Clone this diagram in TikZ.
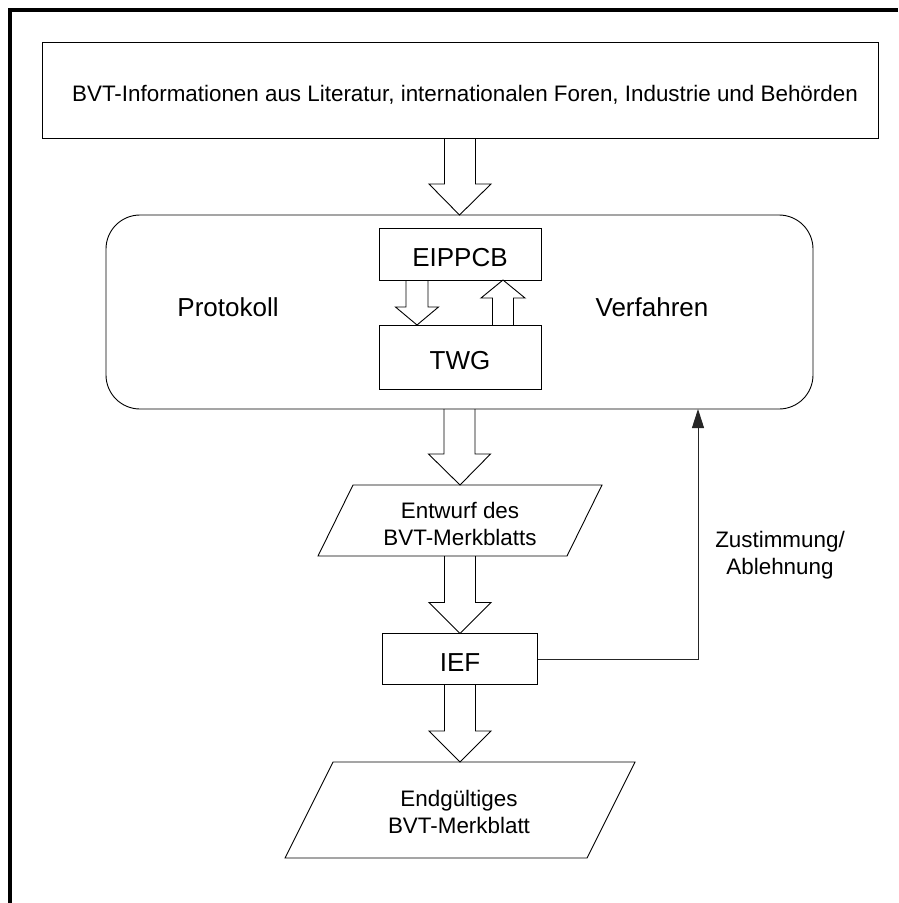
\documentclass[tikz,border=0pt]{standalone}
\usepackage{fontspec}
\setmainfont{Liberation Sans}
\usetikzlibrary{calc,arrows.meta}
\tikzset{
  boxs/.style={draw=black, line width=0.9pt, inner sep=0pt, outer sep=0pt, align=center},
  txt/.style={inner sep=0pt, outer sep=0pt, align=center},
  ln/.style={draw=black, line width=0.9pt, line join=miter},
  f22/.style={font=\fontsize{22.4pt}{27pt}\selectfont},
  f26/.style={font=\fontsize{26pt}{31pt}\selectfont},
  blk/.style={draw=black, line width=0.9pt, line join=miter},
  fb/.style={draw=black!85, line width=0.9pt, -{Triangle[length=19pt,width=12pt]}},
}
\newcommand\bigdown[2]{\draw[blk] let \p1=(#1), \p2=(#2) in
  (\x1-15.5pt,\y1) -- (\x1-15.5pt,\y2+31pt) -- (\x1-31pt,\y2+31pt) -- (\x2,\y2)
  -- (\x1+31pt,\y2+31pt) -- (\x1+15.5pt,\y2+31pt) -- (\x1+15.5pt,\y1);}
\newcommand\smalldown[2]{\draw[blk] let \p1=(#1), \p2=(#2) in
  (\x1-11pt,\y1) -- (\x1-11pt,\y2+18pt) -- (\x1-21.5pt,\y2+18pt) -- (\x2,\y2)
  -- (\x1+21.5pt,\y2+18pt) -- (\x1+11pt,\y2+18pt) -- (\x1+11pt,\y1);}
\newcommand\smallup[2]{\draw[blk] let \p1=(#1), \p2=(#2) in
  (\x1-10.5pt,\y1) -- (\x1-10.5pt,\y2-18pt) -- (\x1-22pt,\y2-18pt) -- (\x2,\y2)
  -- (\x1+22pt,\y2-18pt) -- (\x1+10.5pt,\y2-18pt) -- (\x1+10.5pt,\y1);}
\begin{document}
\begin{tikzpicture}[x=1pt,y=-1pt]
\useasboundingbox (0,0) rectangle (898,903);
\draw[line width=3.5pt] (10,903) -- (10,10) -- (898,10);

% top box
\node[boxs,minimum width=836pt,minimum height=96pt] (top) at (460,90) {};
\node[txt,f22,text height=15.9pt,text depth=0pt] (toptext) at (465,94) {BVT-Informationen aus Literatur, internationalen Foren, Industrie und Behörden};

% process box
\node[boxs,minimum width=707pt,minimum height=194pt,rounded corners=34pt] (proc) at (459.5,312) {};
\node[txt,f26,text height=18.6pt,text depth=0pt] (protokoll) at (228,307.5) {Protokoll};
\node[txt,f26,text height=18.6pt,text depth=0pt] (verfahren) at (652,307.5) {Verfahren};
\node[boxs,f26,minimum width=162pt,minimum height=52pt,text height=24.6pt,text depth=0pt] (eippcb) at (460,254) {EIPPCB};
\node[boxs,f26,minimum width=162pt,minimum height=64pt,text height=24.6pt,text depth=0pt] (twg) at (460,357) {TWG};

% draft parallelogram
\node[txt,minimum width=249pt,minimum height=71pt] (entw) at (460,520.5) {};
\draw[ln] ($(entw.north west)+(17.5,0)$) -- ($(entw.north east)+(17.5,0)$)
  -- ($(entw.south east)+(-17.5,0)$) -- ($(entw.south west)+(-17.5,0)$) -- cycle;
\node[txt,f22] (entwtext) at (460,523.5) {Entwurf des\\BVT-Merkblatts};

% IEF
\node[boxs,f26,minimum width=155pt,minimum height=51pt,text height=25.6pt,text depth=0pt] (ief) at (460,659) {IEF};

% final parallelogram
\node[txt,minimum width=302pt,minimum height=96pt] (endg) at (460,810) {};
\draw[ln] ($(endg.north west)+(24,0)$) -- ($(endg.north east)+(24,0)$)
  -- ($(endg.south east)+(-24,0)$) -- ($(endg.south west)+(-24,0)$) -- cycle;
\node[txt,f22] (endtext) at (459,811.5) {Endgültiges\\BVT-Merkblatt};

% block arrows
\bigdown{top.south}{proc.north}
\bigdown{proc.south}{entw.north}
\bigdown{entw.south}{ief.north}
\bigdown{ief.south}{endg.north}
\smalldown{$(eippcb.south)+(-43,0)$}{$(twg.north)+(-43,0)$}
\smallup{$(twg.north)+(43,0)$}{$(eippcb.south)+(43,0)$}

% feedback
\draw[fb] (ief.east) -| ($(proc.south east)+(-115,0)$);
\node[txt,f22] (fblabel) at (780,555) {Zustimmung/\\Ablehnung};
\end{tikzpicture}
\end{document}
